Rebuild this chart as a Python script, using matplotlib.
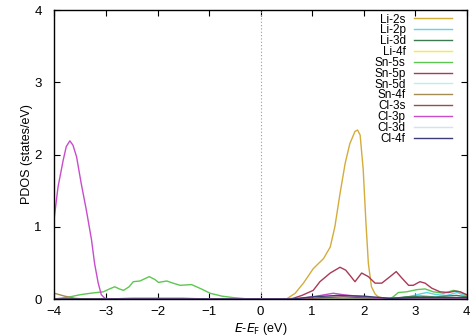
import matplotlib
matplotlib.use("Agg")
import matplotlib.pyplot as plt

plt.rcParams['font.family'] = ['Liberation Sans', 'DejaVu Sans']

labels = ["Li-2s", "Li-2p", "Li-3d", "Li-4f", "Sn-5s", "Sn-5p", "Sn-5d",
          "Sn-4f", "Cl-3s", "Cl-3p", "Cl-3d", "Cl-4f"]
colors = ["#d4ac3c", "#5ad6e6", "#3c7a50", "#f2ee3a", "#5cc850", "#a83a58",
          "#b6f0f0", "#a48c52", "#94504a", "#c84ccc", "#d4e2ee", "#3c3c78"]

# energies (eV) and PDOS values (states/eV) per orbital
li2s_x = [-4.0, 0.3, 0.5, 0.67, 0.83, 1.02, 1.22, 1.35, 1.44, 1.54, 1.64, 1.73, 1.83, 1.88, 1.93, 1.99, 2.04, 2.09, 2.15, 2.22, 2.28, 2.4, 4.0]
li2s_y = [0.0, 0.0, 0.0, 0.08, 0.22, 0.42, 0.56, 0.72, 1.00, 1.46, 1.88, 2.15, 2.32, 2.34, 2.27, 1.79, 1.09, 0.49, 0.17, 0.07, 0.03, 0.01, 0.01]

li2p_x = [-4.0, 2.6, 2.8, 3.03, 3.22, 3.42, 3.61, 3.81, 4.0]
li2p_y = [0.0, 0.0, 0.02, 0.06, 0.09, 0.06, 0.05, 0.09, 0.04]

li3d_x = [-4.0, 2.5, 2.8, 3.1, 3.4, 3.8, 4.0]
li3d_y = [0.0, 0.0, 0.03, 0.04, 0.03, 0.05, 0.03]

li4f_x = [-4.0, 4.0]
li4f_y = [0.0, 0.0]

sn5s_x = [-4.0, -3.7, -3.5, -3.3, -3.18, -3.05, -2.93, -2.83, -2.74, -2.66, -2.55, -2.47, -2.34, -2.25, -2.16, -2.05, -1.98, -1.82, -1.7, -1.56, -1.34, -1.15, -0.98, -0.75, -0.53, -0.3, 0.0, 2.5, 2.57, 2.67, 2.83, 3.03, 3.19, 3.35, 3.55, 3.74, 3.87, 4.0]
sn5s_y = [0.0, 0.03, 0.06, 0.08, 0.09, 0.10, 0.14, 0.17, 0.14, 0.12, 0.17, 0.24, 0.25, 0.28, 0.31, 0.27, 0.23, 0.25, 0.22, 0.19, 0.20, 0.14, 0.08, 0.04, 0.02, 0.005, 0.0, 0.0, 0.03, 0.09, 0.10, 0.13, 0.14, 0.10, 0.08, 0.12, 0.10, 0.05]

sn5p_x = [-4.0, -3.0, -2.5, -1.5, -1.0, 0.5, 0.63, 0.8, 1.02, 1.15, 1.35, 1.54, 1.65, 1.73, 1.83, 1.96, 2.09, 2.22, 2.35, 2.51, 2.63, 2.74, 2.87, 2.96, 3.09, 3.19, 3.32, 3.48, 3.64, 3.77, 3.87, 4.0]
sn5p_y = [0.0, 0.0, 0.01, 0.01, 0.0, 0.0, 0.01, 0.05, 0.12, 0.24, 0.36, 0.44, 0.40, 0.33, 0.24, 0.36, 0.31, 0.22, 0.22, 0.31, 0.38, 0.29, 0.19, 0.19, 0.24, 0.22, 0.15, 0.10, 0.09, 0.11, 0.10, 0.06]

sn5d_x = [-4.0, 2.8, 3.2, 3.6, 4.0]
sn5d_y = [0.0, 0.0, 0.02, 0.02, 0.02]

sn4f_x = [-4.0, -3.8, -3.6, -3.4, 4.0]
sn4f_y = [0.08, 0.04, 0.01, 0.0, 0.0]

cl3s_x = [-4.0, 0.8, 1.2, 1.6, 2.0, 2.5, 3.2, 4.0]
cl3s_y = [0.0, 0.0, 0.02, 0.03, 0.02, 0.01, 0.02, 0.01]

cl3p_x = [-4.0, -3.93, -3.83, -3.77, -3.70, -3.64, -3.57, -3.48, -3.38, -3.28, -3.22, -3.15, -3.09, -3.02, -2.9, 0.7, 1.0, 1.41, 1.6, 2.0, 2.4, 4.0]
cl3p_y = [1.14, 1.55, 1.92, 2.11, 2.19, 2.13, 1.97, 1.60, 1.23, 0.82, 0.49, 0.22, 0.06, 0.01, 0.0, 0.0, 0.03, 0.08, 0.06, 0.03, 0.0, 0.0]

cl3d_x = [-4.0, 4.0]
cl3d_y = [0.0, 0.0]

cl4f_x = [-4.0, 0.6, 1.0, 1.5, 2.0, 2.5, 3.0, 3.5, 4.0]
cl4f_y = [0.0, 0.0, 0.03, 0.05, 0.04, 0.01, 0.02, 0.02, 0.02]

series = [(li2s_x, li2s_y), (li2p_x, li2p_y), (li3d_x, li3d_y), (li4f_x, li4f_y),
          (sn5s_x, sn5s_y), (sn5p_x, sn5p_y), (sn5d_x, sn5d_y), (sn4f_x, sn4f_y),
          (cl3s_x, cl3s_y), (cl3p_x, cl3p_y), (cl3d_x, cl3d_y), (cl4f_x, cl4f_y)]

xticks = [-4, -3, -2, -1, 0, 1, 2, 3, 4]
yticks = [0, 1, 2, 3, 4]

fig = plt.figure(figsize=(4.73, 3.36), dpi=100)
ax = fig.add_axes([0.115, 0.110, 0.872, 0.860])

for (x, y), lab, c in zip(series, labels, colors):
    ax.plot(x, y, color=c, lw=1.0, label=lab, solid_joinstyle="round")

ax.axvline(0, color="#999999", lw=0.8, ls=(0, (1, 2)))

ax.set_xlim(-4, 4)
ax.set_ylim(0, 4)
ax.set_xticks(xticks)
ax.set_yticks(yticks)
ax.tick_params(direction="in", top=True, right=True, length=4, width=0.8, labelsize=9.5)
ax.tick_params(axis="y", pad=9)
ax.tick_params(axis="x", pad=5)
for s in ax.spines.values():
    s.set_linewidth(1.0)

ax.set_xlabel(r"$E$-$E_{\mathrm{F}}$ (eV)", fontsize=9, labelpad=2)
ax.set_ylabel("PDOS (states/eV)", fontsize=9, labelpad=1)

ax.legend(loc="upper right", bbox_to_anchor=(0.972, 1.0), frameon=False,
          markerfirst=False, fontsize=8.5, labelspacing=-0.1, handlelength=3.2,
          handletextpad=0.7, borderaxespad=0.1, borderpad=0.2)

fig.savefig("out.png", dpi=100)
